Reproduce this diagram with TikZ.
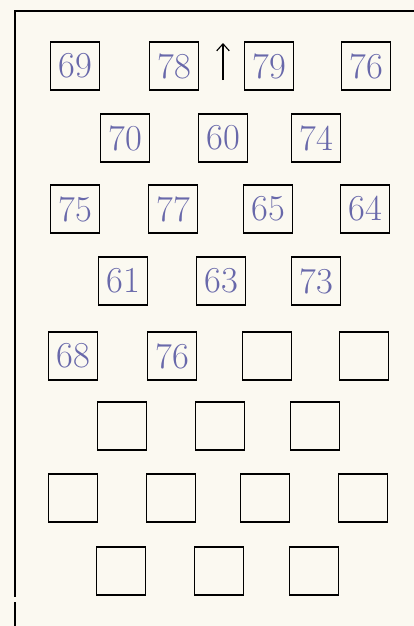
\documentclass[tikz,border=0pt]{standalone}
\usepackage{tikz}
\usetikzlibrary{arrows.meta}
\definecolor{paper}{RGB}{251,249,241}
\definecolor{ink}{RGB}{104,104,170}
\begin{document}
\begin{tikzpicture}[x=0.025cm,y=-0.025cm,
  seat/.style={draw,line width=0.8pt,minimum width=1.22cm,minimum height=1.2cm,inner sep=0pt,
    text=ink,font=\fontsize{26}{28}\selectfont}]
\fill[paper] (0,0) rectangle (414,626);
\useasboundingbox (0,0) rectangle (414,626);

\draw[line width=0.9pt] (414,11) -- (15,11) -- (15,597);
\draw[line width=0.9pt] (15,602) -- (15,626);

% row 1
\node[seat] (s11) at (75,66) {69};
\node[seat] (s12) at (174,66) {78};
\node[seat] (s13) at (269,66) {79};
\node[seat] (s14) at (366,66) {76};

\coordinate (up0) at (223,80);
\coordinate (up1) at (223,43);
\draw[line width=0.8pt,-{Straight Barb[length=5pt,width=9pt]}] (up0) -- (up1);

% row 2
\node[seat] (s21) at (125,138) {70};
\node[seat] (s22) at (223,138) {60};
\node[seat] (s23) at (316,138) {74};

% row 3
\node[seat] (s31) at (75,209) {75};
\node[seat] (s32) at (173,209) {77};
\node[seat] (s33) at (268,209) {65};
\node[seat] (s34) at (365,209) {64};

% row 4
\node[seat] (s41) at (123,281) {61};
\node[seat] (s42) at (221,281) {63};
\node[seat] (s43) at (316,281) {73};

% row 5
\node[seat] (s51) at (73,356) {68};
\node[seat] (s52) at (172,356) {76};
\node[seat] (s53) at (267,356) {};
\node[seat] (s54) at (364,356) {};

% row 6
\node[seat] (s61) at (122,426) {};
\node[seat] (s62) at (220,426) {};
\node[seat] (s63) at (315,426) {};

% row 7
\node[seat] (s71) at (73,498) {};
\node[seat] (s72) at (171,498) {};
\node[seat] (s73) at (265,498) {};
\node[seat] (s74) at (363,498) {};

% row 8
\node[seat] (s81) at (121,571) {};
\node[seat] (s82) at (219,571) {};
\node[seat] (s83) at (314,571) {};
\end{tikzpicture}
\end{document}
